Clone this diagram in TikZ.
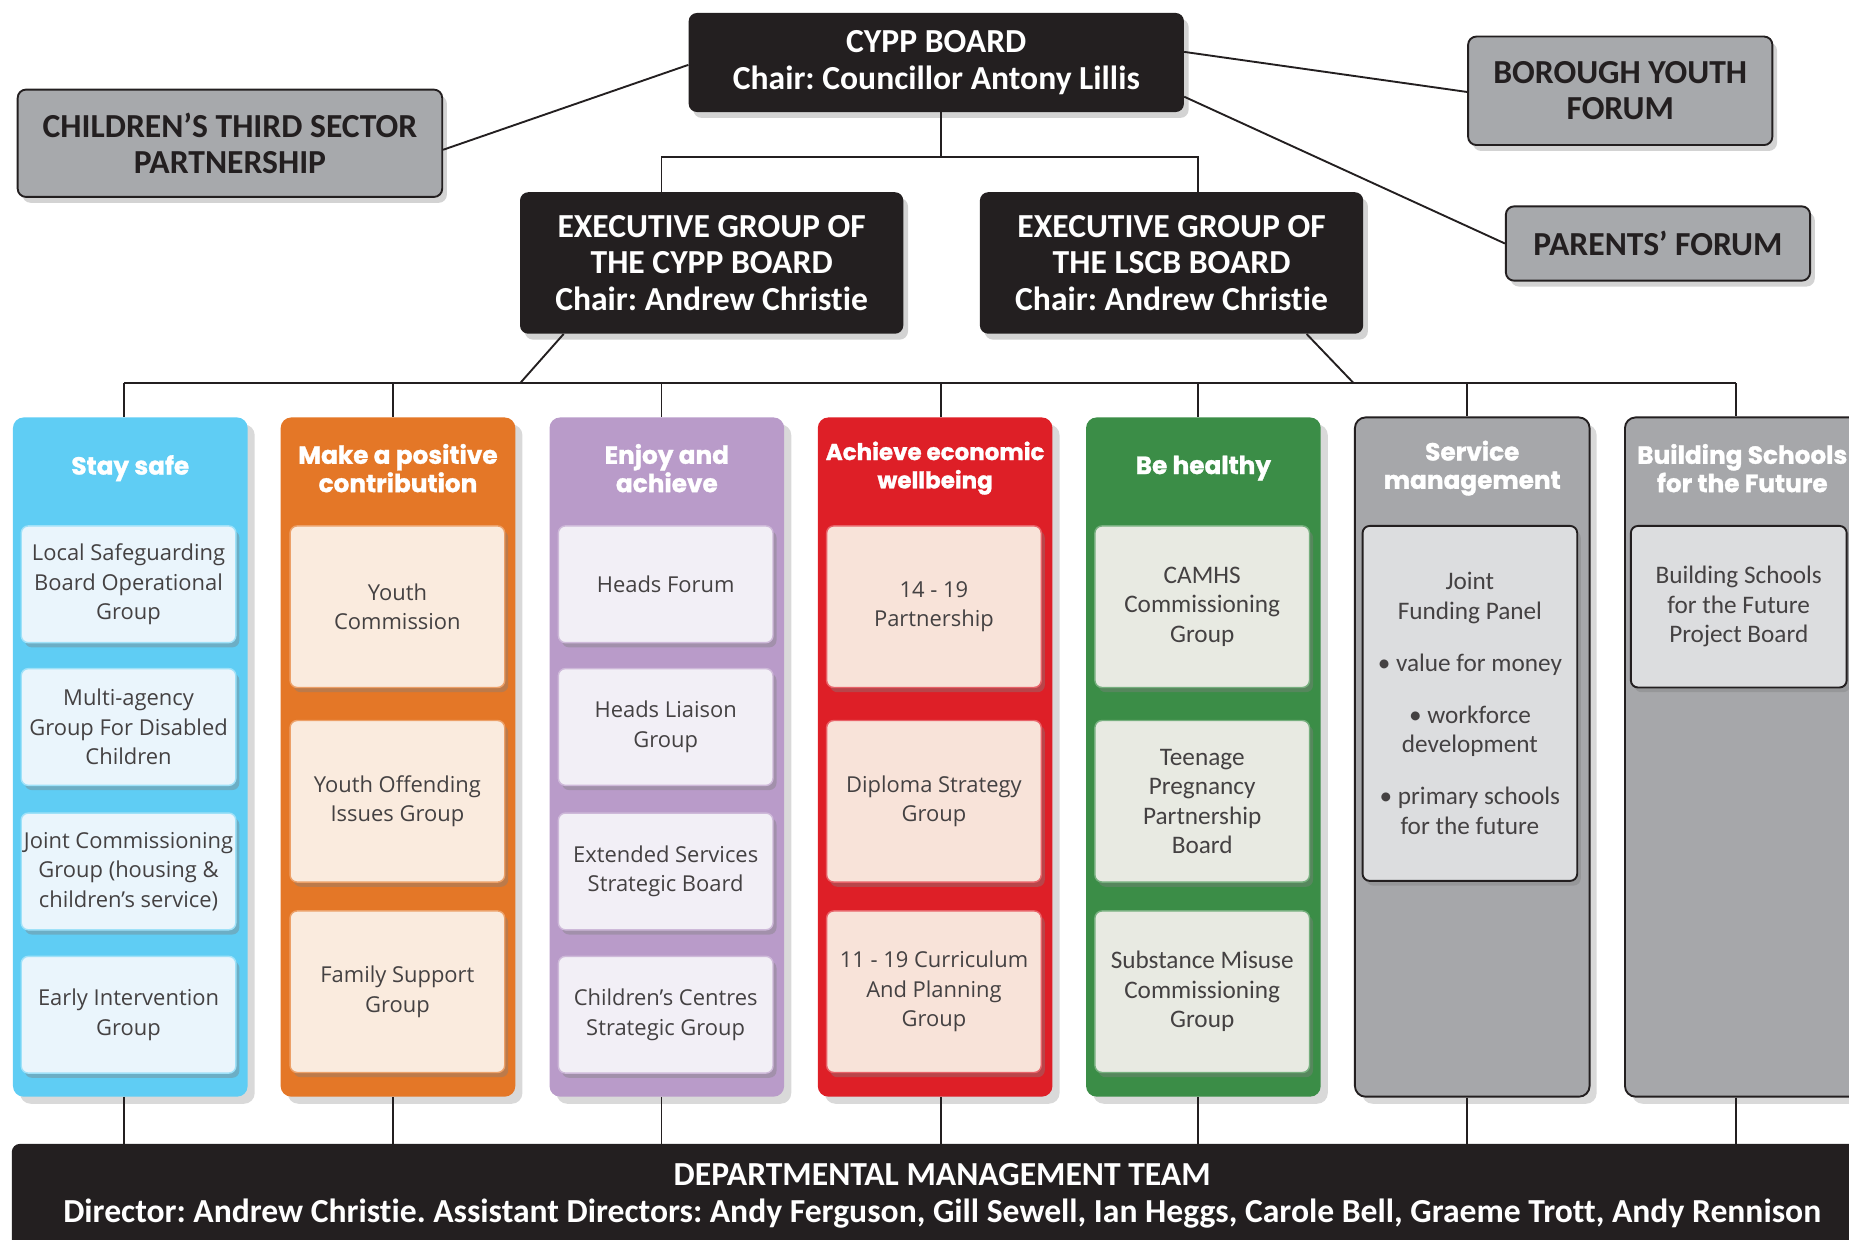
\documentclass[tikz,border=0pt]{standalone}
\usepackage{fontspec}
\setmainfont{Open Sans}
\newfontfamily\boxfont[Ligatures=NoCommon]{Carlito}
\newfontfamily\headfont[FakeBold=1.2]{Poppins}
\usetikzlibrary{shadows}
\frenchspacing

\definecolor{ink}{HTML}{231F20}
\definecolor{panel}{HTML}{A7A9AC}
\definecolor{safeblue}{HTML}{5FCDF4}
\definecolor{safein}{HTML}{EAF5FC}
\definecolor{posorange}{HTML}{E47727}
\definecolor{posin}{HTML}{FAEBDE}
\definecolor{enjoylilac}{HTML}{B99BC9}
\definecolor{enjoyin}{HTML}{F2EFF6}
\definecolor{econred}{HTML}{DE1F27}
\definecolor{econin}{HTML}{F8E3D9}
\definecolor{healthgreen}{HTML}{3B8D47}
\definecolor{healthin}{HTML}{E8EAE2}
\definecolor{servgray}{HTML}{A6A7AA}
\definecolor{servin}{HTML}{DCDDDF}

\begin{document}
\begin{tikzpicture}[x=1pt,y=-1pt,
    link/.style={line width=1.6pt, ink},
    darkbox/.style={fill=ink, text=white, rounded corners=7pt, align=center,
      font=\boxfont\bfseries\fontsize{28.5}{31}\selectfont,
      drop shadow={opacity=0.35, shadow xshift=4pt, shadow yshift=-5pt}},
    greybox/.style={darkbox, draw=ink, line width=1.6pt, fill=panel, text=ink},
    theme/.style={rounded corners=9pt, minimum width=199pt, minimum height=576pt,
      drop shadow={opacity=0.3, shadow xshift=6pt, shadow yshift=-6pt}},
    head/.style={text=white, align=center, font=\headfont\bfseries\fontsize{21}{24}\selectfont},
    group/.style={rounded corners=6pt, minimum width=182pt, inner sep=1pt, align=center,
      text=ink!85, font=\fontsize{18.6}{25}\selectfont, line width=1.2pt,
      drop shadow={opacity=0.4, shadow xshift=3pt, shadow yshift=-4pt}},
    safegroup/.style={group, fill=safein, draw=safeblue!60!white},
    posgroup/.style={group, fill=posin, draw=posorange!70!white},
    enjoygroup/.style={group, fill=enjoyin, draw=enjoylilac!70!white},
    econgroup/.style={group, fill=econin, draw=econred!70!white},
    healthgroup/.style={group, fill=healthin, draw=healthgreen!70!white, font=\boxfont\fontsize{21.4}{25}\selectfont},
    servgroup/.style={group, fill=servin, draw=ink, line width=1.6pt, font=\boxfont\fontsize{21.4}{25}\selectfont}]
\useasboundingbox (0,0) rectangle (1568,1051);

% Boards at the top
\node[darkbox, minimum width=420pt, minimum height=84pt] (cypp) at (794,53)
  {CYPP BOARD\\Chair: Councillor Antony Lillis};
\node[greybox, minimum width=360pt, minimum height=91pt] (third) at (195,121.5)
  {CHILDREN’S THIRD SECTOR\\PARTNERSHIP};
\node[greybox, minimum width=258pt, minimum height=92pt] (youth) at (1374,77)
  {BOROUGH YOUTH\\FORUM};
\node[greybox, minimum width=258pt, minimum height=63pt] (parents) at (1406,206.5)
  {PARENTS’ FORUM};
\node[darkbox, minimum width=325pt, minimum height=120pt] (execc) at (603.5,223)
  {EXECUTIVE GROUP OF\\THE CYPP BOARD\\Chair: Andrew Christie};
\node[darkbox, minimum width=325pt, minimum height=120pt] (execl) at (993.5,223)
  {EXECUTIVE GROUP OF\\THE LSCB BOARD\\Chair: Andrew Christie};

% Theme columns
\node[theme, fill=safeblue] (c1) at (110.5,642) {};
\node[theme, fill=posorange] (c2) at (337.5,642) {};
\node[theme, fill=enjoylilac] (c3) at (565.5,642) {};
\node[theme, fill=econred] (c4) at (793,642) {};
\node[theme, fill=healthgreen] (c5) at (1020.5,642) {};
\node[theme, fill=servgray, draw=ink, line width=1.6pt] (c6) at (1248.5,642) {};
\node[theme, fill=servgray, draw=ink, line width=1.6pt] (c7) at (1477.5,642) {};

\node[head] (c1h) at (110.5,397) {Stay safe};
\node[head] (c2h) at (337.5,397) {Make a positive\\contribution};
\node[head] (c3h) at (565.5,397) {Enjoy and\\achieve};
\node[head, font=\headfont\bfseries\fontsize{19.5}{24}\selectfont] (c4h) at (793,397) {Achieve economic\\wellbeing};
\node[head] (c5h) at (1020.5,397) {Be healthy};
\node[head] (c6h) at (1248.5,397) {Service\\management};
\node[head] (c7h) at (1477.5,397) {Building Schools\\for the Future};

% Groups in each column
\node[safegroup, minimum height=99pt] (s1) at (109,495.5) {Local Safeguarding\\Board Operational\\Group};
\node[safegroup, minimum height=99pt] (s2) at (109,616.5) {Multi-agency\\Group For Disabled\\Children};
\node[safegroup, minimum height=99pt] (s3) at (109,739) {Joint Commissioning\\Group (housing \&\\children's service)};
\node[safegroup, minimum height=99pt] (s4) at (109,860.5) {Early Intervention\\Group};

\node[posgroup, minimum height=137pt] (p1) at (337,514.5) {Youth\\Commission};
\node[posgroup, minimum height=137pt] (p2) at (337,679.5) {Youth Offending\\Issues Group};
\node[posgroup, minimum height=137pt] (p3) at (337,841) {Family Support\\Group};

\node[enjoygroup, minimum height=99pt] (e1) at (564.5,495.5) {Heads Forum};
\node[enjoygroup, minimum height=99pt] (e2) at (564.5,616.5) {Heads Liaison\\Group};
\node[enjoygroup, minimum height=99pt] (e3) at (564.5,739) {Extended Services\\Strategic Board};
\node[enjoygroup, minimum height=99pt] (e4) at (564.5,860.5) {Children's Centres\\Strategic Group};

\node[econgroup, minimum height=137pt] (w1) at (792,514.5) {14 - 19\\Partnership};
\node[econgroup, minimum height=137pt] (w2) at (792,679.5) {Diploma Strategy\\Group};
\node[econgroup, minimum height=137pt] (w3) at (792,841) {11 - 19 Curriculum\\And Planning\\Group};

\node[healthgroup, minimum height=137pt] (h1) at (1019.5,514.5) {CAMHS\\Commissioning\\Group};
\node[healthgroup, minimum height=137pt] (h2) at (1019.5,679.5) {Teenage\\Pregnancy\\Partnership\\Board};
\node[healthgroup, minimum height=137pt] (h3) at (1019.5,841) {Substance Misuse\\Commissioning\\Group};

\node[servgroup, minimum height=301pt] (m1) at (1246.5,596.5)
  {Joint\\Funding Panel\\[19pt]• value for money\\[19pt]• workforce\\development\\[19pt]• primary schools\\for the future};
\node[servgroup, minimum height=137pt, minimum width=183pt] (b1) at (1474.5,514.5)
  {Building Schools\\for the Future\\Project Board};

% Departmental team at the bottom
\node[darkbox, minimum width=1578pt, minimum height=88pt] (dmt) at (799,1014)
  {DEPARTMENTAL MANAGEMENT TEAM\\Director: Andrew Christie. Assistant Directors: Andy Ferguson, Gill Sewell, Ian Heggs, Carole Bell, Graeme Trott, Andy Rennison};

% Connectors
\coordinate (busl) at (105,325);
\coordinate (busr) at (1472,325);
\coordinate (busa) at (441,325);
\coordinate (busb) at (1148,325);
\draw[link] ([xshift=4pt]cypp.south) -- ++(0,38) -| ([xshift=-42.5pt]execc.north);
\draw[link] ([xshift=4pt]cypp.south) -- ++(0,38) -| ([xshift=22.5pt]execl.north);
\draw[link] ([yshift=-2pt]cypp.west) -- ([yshift=-5.5pt]third.east);
\draw[link] ([yshift=9pt]cypp.east) -- ([yshift=-1pt]youth.west);
\draw[link] ([yshift=-29pt]cypp.east) -- (parents.west);
\draw[link] ([xshift=-125.5pt]execc.south) -- (busa);
\draw[link] ([xshift=114.5pt]execl.south) -- (busb);
\draw[link] (busl) -- (busr);
\foreach \n/\d in {c1/105,c2/333,c3/561,c4/798,c5/1016,c6/1244,c7/1472} {
  \draw[link] (\d,325) -- (\d,0 |- \n.north);
  \draw[link] (\d,0 |- \n.south) -- (\d,0 |- dmt.north);
}
\end{tikzpicture}
\end{document}
